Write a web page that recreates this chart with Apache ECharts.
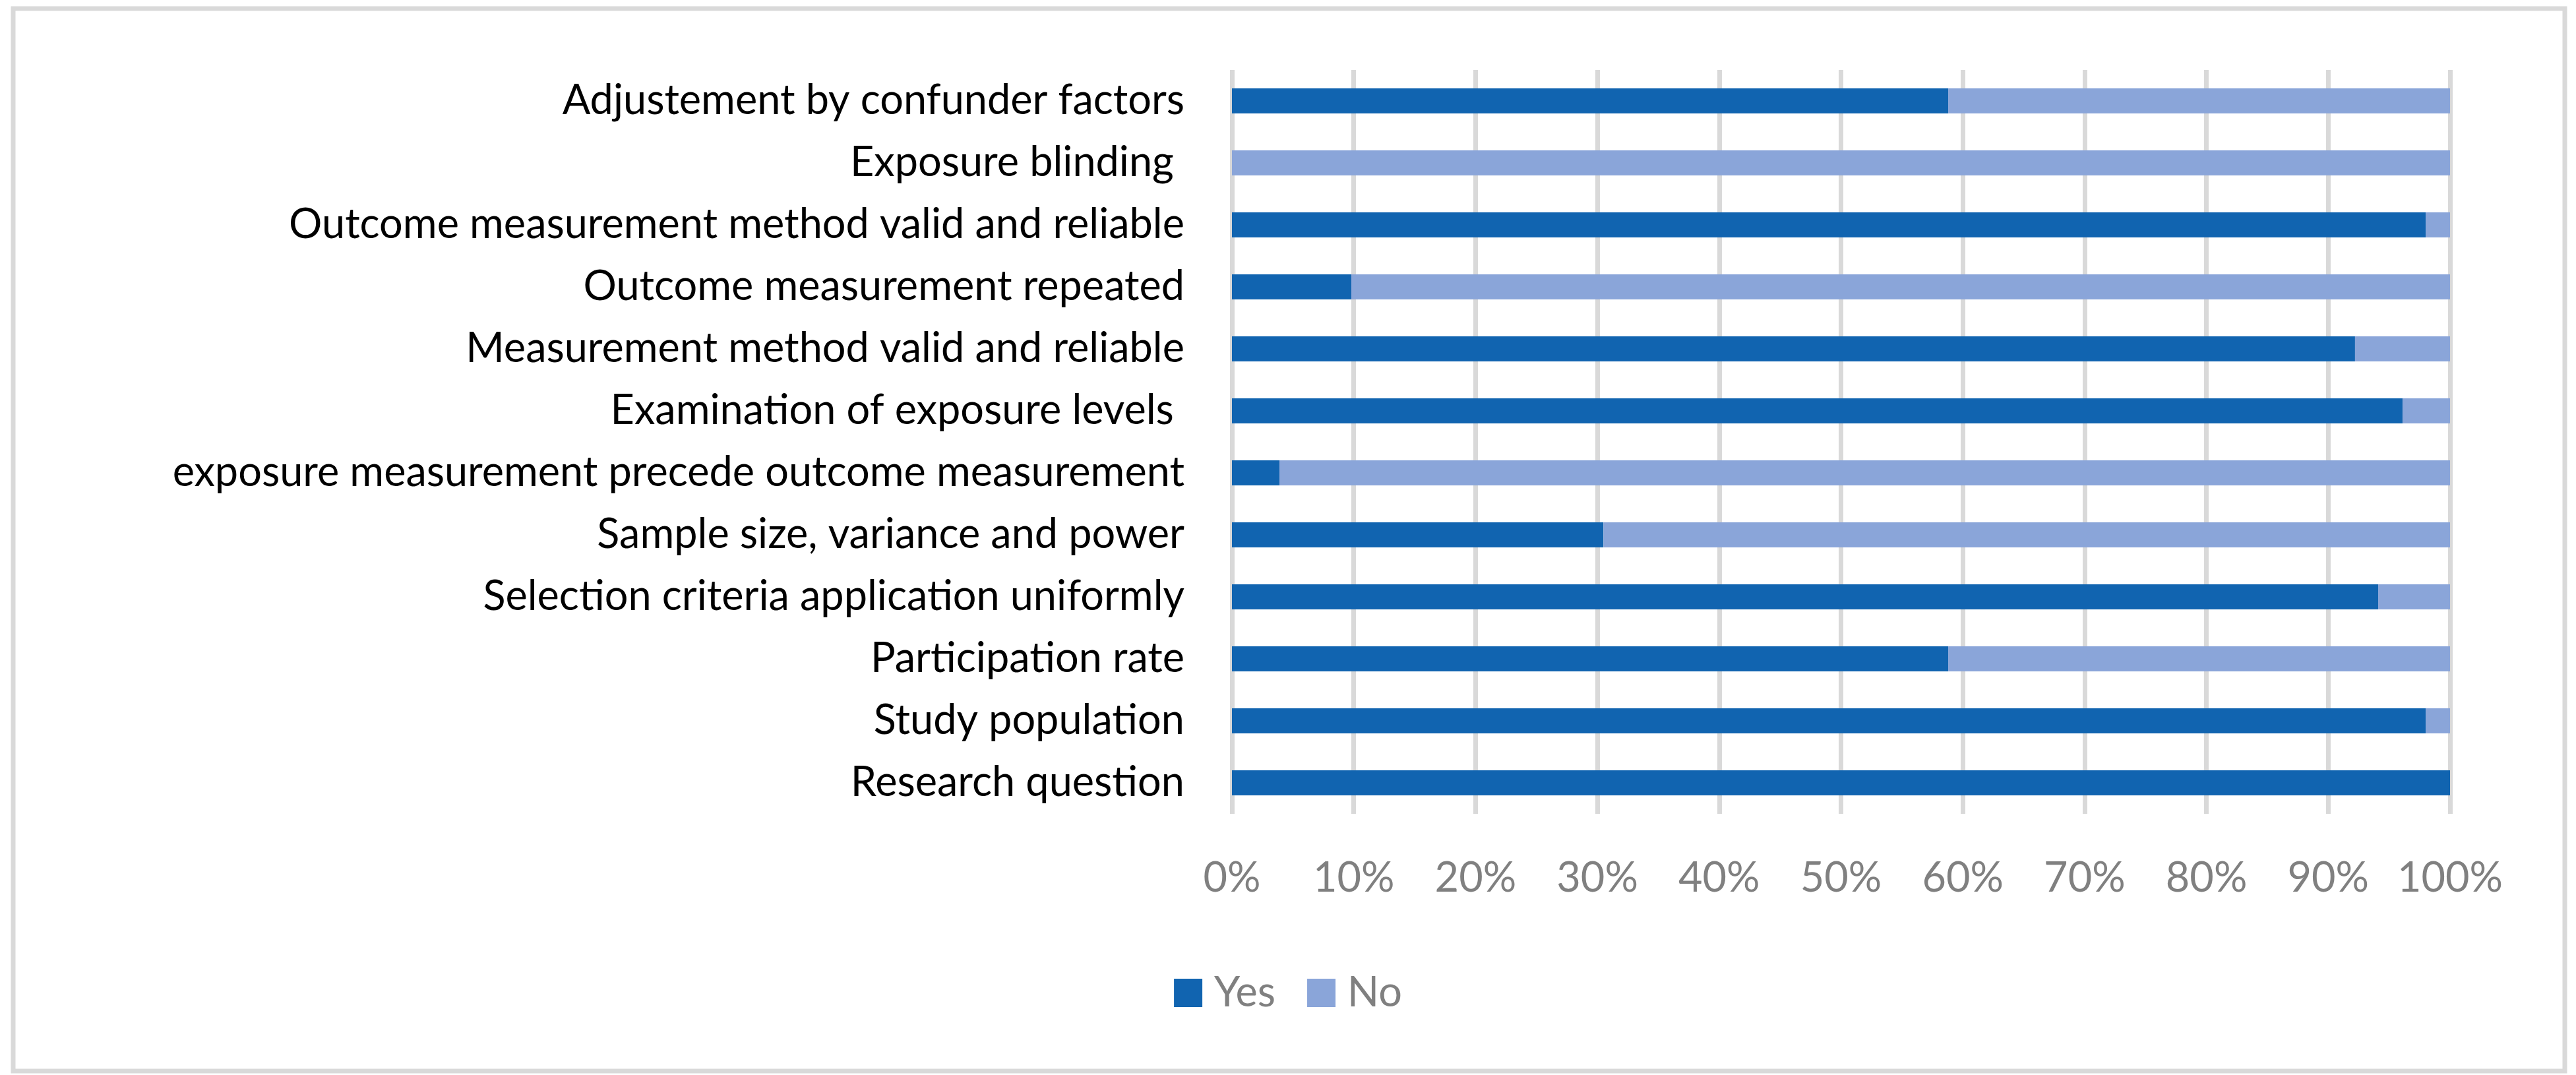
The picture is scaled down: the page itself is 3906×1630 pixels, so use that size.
<!DOCTYPE html>
<html>
<head>
<meta charset="utf-8">
<script src="https://cdn.jsdelivr.net/npm/echarts@6/dist/echarts.min.js"></script>
<style>
  html, body { margin: 0; padding: 0; background: #fff; }
  #chart { width: 3906px; height: 1630px; }
</style>
</head>
<body>
<div id="chart"></div>
<script>
const categories = [
  "Research question",
  "Study population",
  "Participation rate",
  "Selection criteria application uniformly",
  "Sample size, variance and power",
  "exposure measurement precede outcome measurement",
  "Examination of exposure levels ",
  "Measurement method valid and reliable",
  "Outcome measurement repeated",
  "Outcome measurement method valid and reliable",
  "Exposure blinding ",
  "Adjustement by confunder factors"
];
const yesValues = [100, 98, 58.8, 94.1, 30.5, 3.9, 96.1, 92.2, 9.8, 98, 0, 58.8];
const noValues  = [0, 2, 41.2, 5.9, 69.5, 96.1, 3.9, 7.8, 90.2, 2, 100, 41.2];
const tickValues = [0, 10, 20, 30, 40, 50, 60, 70, 80, 90, 100];
const seriesNames = ["Yes", "No"];

const FONT = "Lato, 'Open Sans', sans-serif";
const FS = 63;
const chart = echarts.init(document.getElementById('chart'), null, { renderer: 'canvas', devicePixelRatio: 1 });
chart.setOption({
  animation: false,
  backgroundColor: '#ffffff',
  graphic: [{
    type: 'rect',
    shape: { x: 20, y: 13, width: 3869, height: 1611 },
    style: { fill: 'none', stroke: '#d9d9d9', lineWidth: 7 },
    silent: true
  }],
  grid: { left: 1868, right: 191, top: 106, bottom: 396, containLabel: false, outerBoundsMode: 'none' },
  legend: {
    data: seriesNames,
    left: 'center',
    top: 1469,
    itemWidth: 43,
    itemHeight: 43,
    itemGap: 48,
    icon: 'rect',
    textStyle: { fontFamily: FONT, fontSize: FS, color: '#808080', padding: [0, 0, 0, 13] }
  },
  xAxis: {
    type: 'value',
    min: 0,
    max: 100,
    interval: 10,
    axisLine: { show: false },
    axisTick: { show: false },
    splitLine: { show: true, lineStyle: { color: '#d9d9d9', width: 7 } },
    axisLabel: {
      margin: 66,
      fontFamily: FONT,
      fontSize: FS,
      color: '#808080',
      formatter: function (v) { return tickValues.indexOf(v) >= 0 ? v + '%' : ''; }
    }
  },
  yAxis: {
    type: 'category',
    data: categories,
    axisLine: { show: false },
    axisTick: { show: false },
    splitLine: { show: false },
    axisLabel: { margin: 72, fontFamily: FONT, fontSize: FS, color: '#000000' }
  },
  series: [
    {
      name: seriesNames[0], type: 'bar', stack: 'total', data: yesValues,
      barWidth: 38, itemStyle: { color: '#1164b0' }
    },
    {
      name: seriesNames[1], type: 'bar', stack: 'total', data: noValues,
      barWidth: 38, itemStyle: { color: '#8aa5d9' }
    }
  ]
});
</script>
</body>
</html>
